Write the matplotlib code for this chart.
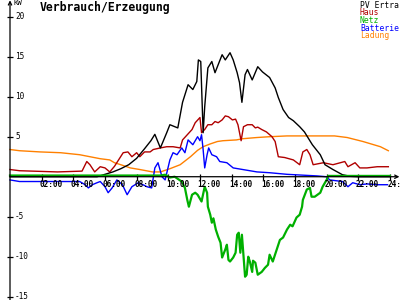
import numpy as np
import matplotlib.pyplot as plt

# ---------------------------------------------------------
# Werte (Stunden, kW)
# ---------------------------------------------------------
pv_t = [0, 5.5, 6.0, 6.5, 7.0, 7.5, 8.0, 8.5, 8.9, 9.15, 9.5, 9.9, 10.1, 10.6,
        10.9, 11.25, 11.55, 11.8, 11.9, 12.05, 12.2, 12.3, 12.5, 12.75, 12.95,
        13.15, 13.4, 13.6, 13.9, 14.1, 14.35, 14.5, 14.65, 14.85, 15.0, 15.3,
        15.65, 15.95, 16.4, 16.75, 16.95, 17.25, 17.6, 17.9, 18.3, 18.6, 19.1,
        19.6, 19.9, 20.4, 21.0, 21.5, 22.0, 24.0]
pv_kw = [0, 0, 0.3, 0.6, 1.0, 1.5, 2.3, 3.5, 4.5, 5.3, 3.6, 5.5, 6.5, 6.1,
         9.3, 11.5, 10.9, 11.9, 14.6, 14.4, 5.5, 8.75, 13.6, 14.4, 13.0,
         14.0, 15.25, 14.6, 15.5, 14.6, 13.0, 11.75, 9.3, 12.75, 13.4, 12.1,
         13.75, 13.1, 12.4, 11.1, 9.9, 8.4, 7.4, 7.0, 6.25, 5.6, 4.0,
         2.75, 1.5, 0.9, 0.25, 0.05, 0, 0]

haus_t = [0, 0.6, 3.0, 4.55, 4.85, 5.05, 5.35, 5.7, 6.0, 6.3, 6.6, 7.15, 7.45,
          7.7, 8.0, 8.2, 8.5, 8.85, 9.05, 9.5, 9.9, 10.3, 10.75, 10.9, 11.5,
          11.7, 12.0, 12.1, 12.3, 12.5, 12.75, 12.95, 13.15, 13.4, 13.6, 13.8,
          14.05, 14.25, 14.4, 14.6, 14.75, 15.0, 15.3, 15.5, 15.65, 15.9, 16.2,
          16.55, 16.75, 16.95, 17.35, 17.9, 18.3, 18.5, 18.75, 18.95, 19.15,
          19.8, 20.4, 21.15, 21.35, 21.8, 22.1, 22.55, 23.2, 23.9]
haus_kw = [0.9, 0.75, 0.6, 0.7, 1.9, 1.5, 0.6, 1.25, 1.1, 0.6, 1.3, 3.0, 3.1,
           2.5, 3.0, 2.5, 3.1, 3.1, 3.4, 3.6, 3.75, 3.75, 3.6, 4.6, 5.9,
           6.75, 7.4, 5.5, 5.9, 6.5, 6.5, 6.9, 6.75, 7.1, 7.6, 7.5,
           7.1, 7.2, 6.5, 4.5, 6.25, 6.5, 6.5, 6.1, 6.2, 5.9, 5.6,
           5.0, 4.4, 2.5, 2.4, 2.1, 1.5, 3.1, 3.4, 2.75, 1.5,
           1.75, 1.5, 1.9, 1.25, 1.75, 1.1, 1.1, 1.25, 1.25]

netz_t = [0, 9.5, 9.8, 10.1, 10.4, 10.85, 11.05, 11.2, 11.3, 11.5, 11.7, 11.85,
          12.1, 12.3, 12.45, 12.5, 12.65, 12.75, 12.85, 13.0, 13.15, 13.3, 13.4,
          13.6, 13.7, 13.8, 13.9, 14.1, 14.25, 14.35, 14.45, 14.55, 14.65, 14.85,
          14.95, 15.05, 15.15, 15.3, 15.35, 15.5, 15.65, 15.9, 16.1, 16.3, 16.4,
          16.6, 16.85, 17.05, 17.25, 17.5, 17.7, 17.85, 18.1, 18.3, 18.45, 18.5,
          18.75, 18.95, 19.05, 19.25, 19.6, 19.75, 20.0, 20.1, 24.0]
netz_kw = [0.15, 0.15, 0.25, -0.1, 0.0, -0.6, -1.4, -2.9, -3.75, -2.25, -2.0, -2.25,
           -3.1, -1.25, -2.0, -3.75, -4.75, -5.75, -5.2, -6.6, -7.5, -8.25, -10.1,
           -9.1, -8.5, -10.4, -10.6, -10.1, -9.5, -7.25, -7.0, -9.5, -7.25, -12.5,
           -12.25, -10.0, -10.6, -11.9, -10.5, -10.75, -12.25, -11.9, -11.4, -11.0, -9.75,
           -10.6, -9.1, -7.9, -7.6, -6.6, -6.0, -6.2, -5.1, -4.75, -3.75, -2.9,
           -1.6, -1.4, -2.5, -2.5, -2.0, -1.25, -0.4, 0.1, 0.1]

batt_t = [0, 0.6, 4.4, 4.75, 4.95, 5.2, 5.5, 5.7, 6.0, 6.2, 6.45, 6.75, 7.1,
          7.4, 7.7, 8.1, 8.4, 8.65, 8.95, 9.15, 9.35, 9.6, 9.8, 10.1, 10.3,
          10.55, 10.85, 11.05, 11.25, 11.55, 11.85, 12.0, 12.1, 12.2, 12.3,
          12.45, 12.55, 12.75, 13.05, 13.25, 13.7, 14.1, 14.7, 15.6, 16.4,
          17.5, 19.4, 20.0, 20.2, 21.0, 21.35, 21.65, 22.1, 22.55, 23.2, 23.85]
batt_kw = [-0.4, -0.6, -0.6, -1.0, -1.4, -1.0, -0.75, -0.6, -1.25, -2.0, -1.4, -0.4, -1.0,
           -2.25, -1.25, -0.75, -1.0, -1.25, -1.4, 1.1, 1.75, 0.0, -0.4, 2.1, 3.0,
           2.75, 3.6, 3.0, 4.6, 4.0, 5.0, 4.5, 5.25, 3.4, 1.1,
           2.75, 3.6, 2.75, 2.5, 1.9, 1.75, 1.1, 0.9, 0.6, 0.5,
           0.3, 0.1, 0.0, -0.4, -0.6, -1.25, -0.75, -1.0, -0.9, -1.0, -1.0]

ladung_t = [0, 0.6, 1.9, 3.2, 4.4, 5.05, 5.7, 6.3, 6.6, 7.0, 7.6, 8.2, 9.0, 9.5,
            10.1, 10.75, 11.4, 11.85, 12.2, 12.65, 13.1, 13.45, 14.3, 14.7, 15.6,
            16.4, 17.5, 20.5, 21.3, 22.3, 23.4, 23.9]
ladung_kw = [3.4, 3.25, 3.1, 3.0, 2.75, 2.5, 2.25, 2.1, 1.75, 1.5, 1.1, 0.9, 0.6, 0.6,
             1.0, 1.5, 2.5, 3.3, 3.75, 4.1, 4.4, 4.5, 4.6, 4.75, 4.9,
             5.0, 5.1, 5.1, 4.9, 4.4, 3.75, 3.25]

y_ticks = [20, 15, 10, 5, -5, -10, -15]
x_ticks = list(range(2, 25, 2))
x_labels = [f"{h:02d}:00" for h in x_ticks]

legend_names = ["PV Ertra", "Haus", "Netz", "Batterie", "Ladung"]
legend_colors = ["#000000", "#b00000", "#00b000", "#0000ff", "#ff8000"]

# ---------------------------------------------------------
# Grafik
# ---------------------------------------------------------
fig = plt.figure(figsize=(4, 3), dpi=100)
ax = fig.add_axes([0, 0, 1, 1])
ax.set_xlim(-0.632, 24.637)
ax.set_ylim(-15.41, 22.09)
ax.axis("off")

mono = "DejaVu Sans Mono"

# Achsen mit Pfeilen
ax.annotate("", xy=(0, 22.05), xytext=(0, -15.41),
            arrowprops=dict(arrowstyle="->", lw=0.9, color="k",
                            shrinkA=0, shrinkB=0, mutation_scale=6))
ax.annotate("", xy=(24.6, 0), xytext=(0, 0),
            arrowprops=dict(arrowstyle="->", lw=0.9, color="k",
                            shrinkA=0, shrinkB=0, mutation_scale=6))
ax.plot([0] * len(y_ticks), y_ticks, ls="none", marker="_", ms=5, mew=0.9, color="k")
ax.plot(x_ticks, [0] * len(x_ticks), ls="none", marker="|", ms=5, mew=0.9, color="k")

for v in y_ticks:
    ax.text(0.32, v, str(v), fontsize=5.6, family=mono, va="center", ha="left")
for h, lab in zip(x_ticks, x_labels):
    ax.text(h - 0.15, -0.35, lab, fontsize=5.6, family=mono, va="top", ha="left",
            weight="bold", clip_on=False)
ax.text(0.2, 21.7, "KW", fontsize=5.2, family=mono, va="center", ha="left")

# Kurven
ax.plot(ladung_t, ladung_kw, color=legend_colors[4], lw=1.0)
ax.plot(batt_t, batt_kw, color=legend_colors[3], lw=1.0)
ax.plot(haus_t, haus_kw, color=legend_colors[1], lw=1.0)
ax.plot(pv_t, pv_kw, color=legend_colors[0], lw=1.0)
ax.plot(netz_t, netz_kw, color=legend_colors[2], lw=1.6)

# Titel und Legende
fig.text(40 / 400, 1 - 7.5 / 300, "Verbrauch/Erzeugung", fontsize=8.3, family=mono,
         weight="bold", va="center", ha="left")
for i, (name, col) in enumerate(zip(legend_names, legend_colors)):
    fig.text(360 / 400, 1 - (5 + i * 7.75) / 300, name, fontsize=5.8, family=mono,
             color=col, va="center", ha="left")

plt.savefig("out.png", dpi=100)
